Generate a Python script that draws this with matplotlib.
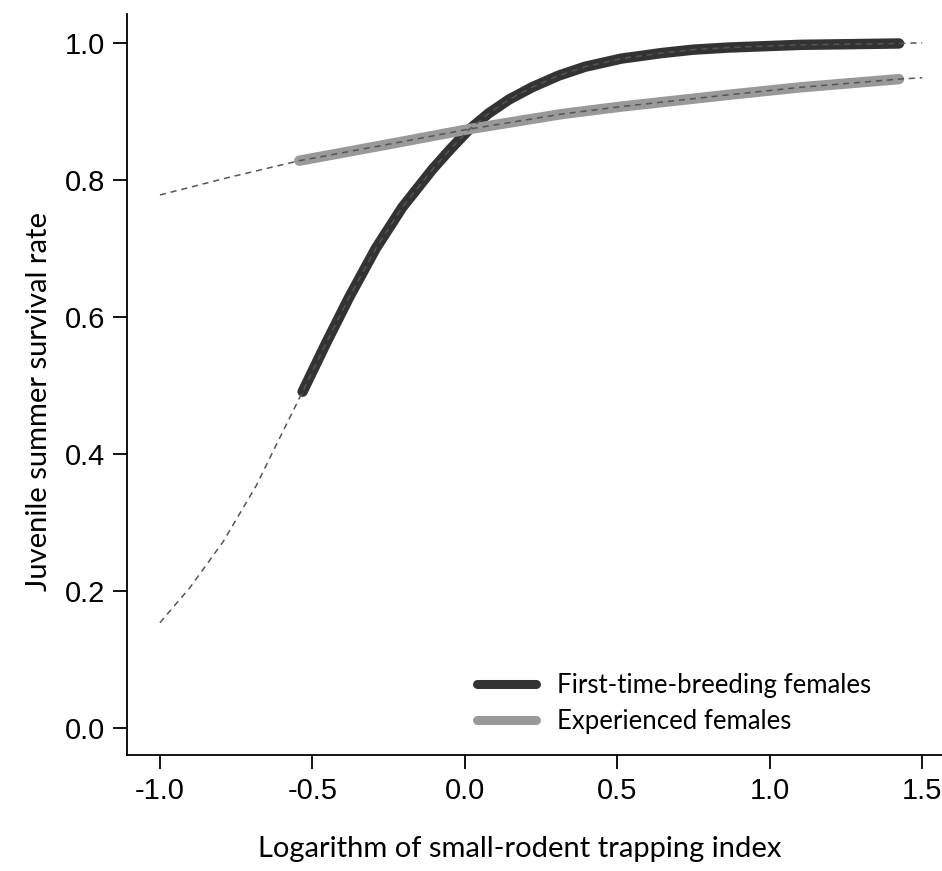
import numpy as np
import matplotlib
matplotlib.use("Agg")
import matplotlib.pyplot as plt

# values (log trapping index vs juvenile survival)
first_x = [-0.532, -0.456, -0.379, -0.292, -0.205, -0.107, -0.047, 0.013, 0.078, 0.144,
           0.220, 0.307, 0.394, 0.514, 0.580, 0.645, 0.750, 0.863, 1.10, 1.424]
first_y = [0.491, 0.561, 0.629, 0.700, 0.760, 0.815, 0.845, 0.873, 0.897, 0.917,
           0.935, 0.952, 0.965, 0.977, 0.981, 0.985, 0.990, 0.993, 0.997, 0.999]
first_ext_x = [-1.0, -0.902, -0.793, -0.684, -0.619] + first_x + [1.50]
first_ext_y = [0.154, 0.205, 0.272, 0.354, 0.413] + first_y + [1.0]

exp_x = [-0.543, -0.25, 0.013, 0.318, 0.514, 0.863, 1.10, 1.424]
exp_y = [0.828, 0.852, 0.874, 0.896, 0.907, 0.924, 0.935, 0.947]
exp_ext_x = [-1.0, -0.78] + exp_x + [1.50]
exp_ext_y = [0.778, 0.803] + exp_y + [0.949]

labels = ["First-time-breeding females", "Experienced females"]
xticks = [-1.0, -0.5, 0.0, 0.5, 1.0, 1.5]
yticks = [0.0, 0.2, 0.4, 0.6, 0.8, 1.0]

plt.rcParams["font.family"] = ["Liberation Sans", "DejaVu Sans"]

fig = plt.figure(figsize=(9.42, 8.71), dpi=100)
ax = fig.add_axes([127/942, 1-755/871, 1-127/942, (755-14)/871])

ax.plot(first_x, first_y, color="#333333", lw=7.5, solid_capstyle="round", label=labels[0])
ax.plot(exp_x, exp_y, color="#999999", lw=7.5, solid_capstyle="round", label=labels[1])
ax.plot(first_ext_x, first_ext_y, color="#555555", lw=1.1, ls=(0, (4, 3.2)))
ax.plot(exp_ext_x, exp_ext_y, color="#555555", lw=1.1, ls=(0, (4, 3.2)))

ax.set_xlim(-1.108, 1.565)
ax.set_ylim(-0.039, 1.042)
ax.set_xticks(xticks)
ax.set_yticks(yticks)
ax.set_xticklabels([f"{t:.1f}" for t in xticks])
ax.set_yticklabels([f"{t:.1f}" for t in yticks])
ax.tick_params(direction="out", length=10, width=1.3, labelsize=21, pad=6)
for s in ["top", "right"]:
    ax.spines[s].set_visible(False)
for s in ["left", "bottom"]:
    ax.spines[s].set_linewidth(1.3)

ax.set_xlabel("Logarithm of small-rodent trapping index", family="Lato", fontsize=21, labelpad=22)
ax.set_ylabel("Juvenile summer survival rate", family="Lato", fontsize=21, labelpad=9)
ax.xaxis.label.set_x(0.482)
ax.yaxis.label.set_y(0.477)

ax.legend(loc="upper left", bbox_to_anchor=(477/942, 1-673/871), bbox_transform=fig.transFigure,
          frameon=False, prop={"family": "Lato", "size": 18.5}, handlelength=2.3,
          handletextpad=0.8, labelspacing=0.42, borderpad=0, borderaxespad=0)
for h in ax.get_legend().get_lines():
    h.set_linewidth(6.5)

fig.savefig("out.png", dpi=100)
